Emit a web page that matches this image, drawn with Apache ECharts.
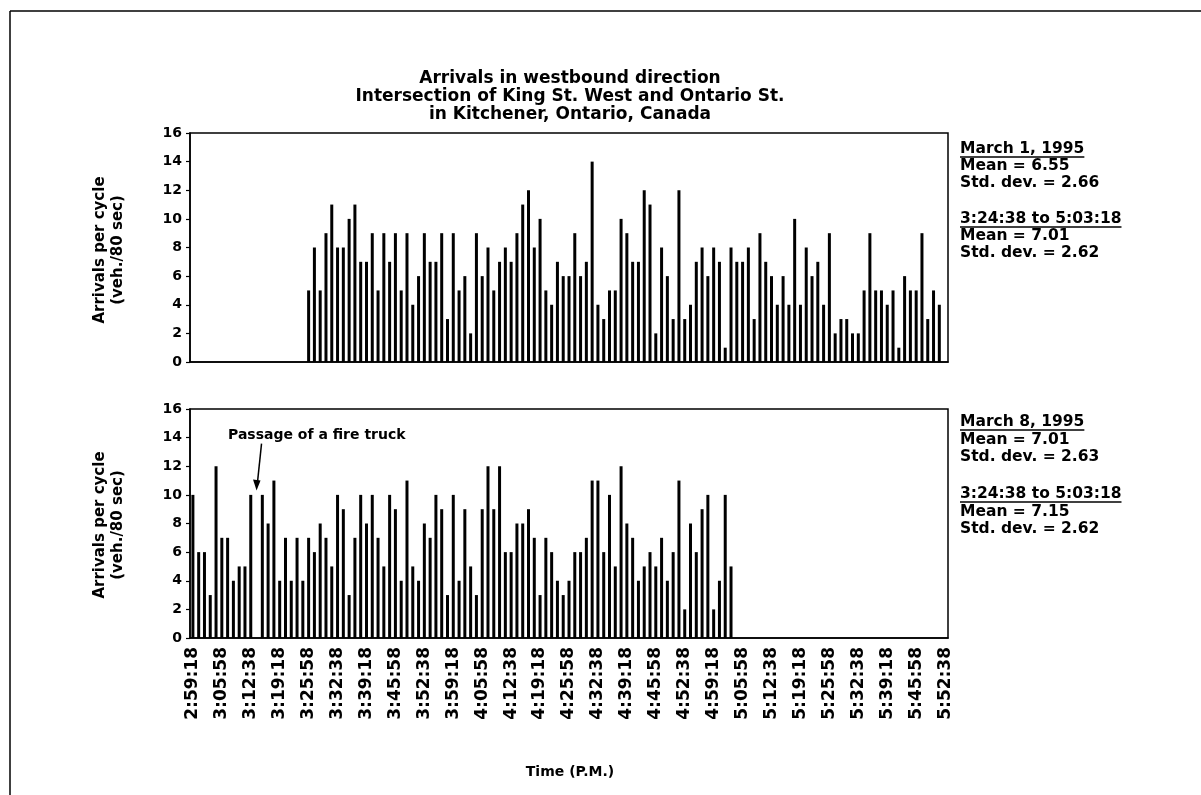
<!DOCTYPE html>
<html>
<head>
<meta charset="utf-8">
<title>Arrivals in westbound direction</title>
<script src="https://cdn.jsdelivr.net/npm/echarts@6.0.0/dist/echarts.min.js"></script>
<style>
  html, body { margin: 0; padding: 0; background: #fff; }
  #chart { width: 1201px; height: 795px; }
</style>
</head>
<body>
<div id="chart"></div>
<script>
// time labels shown under the lower chart (one every 5 cycles)
const tickLabels = [
  '2:59:18', '3:05:58', '3:12:38', '3:19:18', '3:25:58', '3:32:38', '3:39:18',
  '3:45:58', '3:52:38', '3:59:18', '4:05:58', '4:12:38', '4:19:18', '4:25:58',
  '4:32:38', '4:39:18', '4:45:58', '4:52:38', '4:59:18', '5:05:58', '5:12:38',
  '5:19:18', '5:25:58', '5:32:38', '5:39:18', '5:45:58', '5:52:38'
]
const cycleSec = 80
const cycleCount = 131

// March 1, 1995: first counted cycle is at index 20 (3:25:58)
const march1Start = 20
const march1Values = [
  5, 8, 5, 9, 11, 8, 8, 10, 11, 7,
  7, 9, 5, 9, 7, 9, 5, 9, 4, 6,
  9, 7, 7, 9, 3, 9, 5, 6, 2, 9,
  6, 8, 5, 7, 8, 7, 9, 11, 12, 8,
  10, 5, 4, 7, 6, 6, 9, 6, 7, 14,
  4, 3, 5, 5, 10, 9, 7, 7, 12, 11,
  2, 8, 6, 3, 12, 3, 4, 7, 8, 6,
  8, 7, 1, 8, 7, 7, 8, 3, 9, 7,
  6, 4, 6, 4, 10, 4, 8, 6, 7, 4,
  9, 2, 3, 3, 2, 2, 5, 9, 5, 5,
  4, 5, 1, 6, 5, 5, 9, 3, 5, 4
]

// March 8, 1995: starts at 2:59:18
const march8Start = 0
const march8Values = [
  10, 6, 6, 3, 12, 7, 7, 4, 5, 5,
  10, 0, 10, 8, 11, 4, 7, 4, 7, 4,
  7, 6, 8, 7, 5, 10, 9, 3, 7, 10,
  8, 10, 7, 5, 10, 9, 4, 11, 5, 4,
  8, 7, 10, 9, 3, 10, 4, 9, 5, 3,
  9, 12, 9, 12, 6, 6, 8, 8, 9, 7,
  3, 7, 6, 4, 3, 4, 6, 6, 7, 11,
  11, 6, 10, 5, 12, 8, 7, 4, 5, 6,
  5, 7, 4, 6, 11, 2, 8, 6, 9, 10,
  2, 4, 10, 5
]
const fireTruckIndex = 11

const march1Notes = ['March 1, 1995', 'Mean = 6.55', 'Std. dev. = 2.66', '3:24:38 to 5:03:18', 'Mean = 7.01', 'Std. dev. = 2.62']
const march8Notes = ['March 8, 1995', 'Mean = 7.01', 'Std. dev. = 2.63', '3:24:38 to 5:03:18', 'Mean = 7.15', 'Std. dev. = 2.62']

// category list: every 80 s cycle from 2:59:18
const toClock = (sec) => {
  const h = Math.floor(sec / 3600)
  const m = Math.floor((sec % 3600) / 60)
  const s = sec % 60
  return h + ':' + String(m).padStart(2, '0') + ':' + String(s).padStart(2, '0')
}
const startSec = 2 * 3600 + 59 * 60 + 18
const categories = []
for (let i = 0; i < cycleCount; i++) categories.push(toClock(startSec + i * cycleSec))

const pad = (start, values) => {
  const out = new Array(cycleCount).fill(null)
  values.forEach((v, i) => { out[start + i] = v })
  return out
}

const FONT = '"DejaVu Sans", "Liberation Sans", Arial, sans-serif'
const chart = echarts.init(document.getElementById('chart'))

const measure = (text, size) => {
  const ctx = document.createElement('canvas').getContext('2d')
  ctx.font = 'bold ' + size + 'px ' + FONT
  return ctx.measureText(text).width
}

const boldText = (text, x, y, size, align, extra) => Object.assign({
  type: 'text',
  x: x,
  y: y,
  style: {
    text: text,
    fill: '#000',
    fontFamily: FONT,
    fontWeight: 'bold',
    fontSize: size,
    align: align || 'left',
    verticalAlign: 'middle'
  }
}, extra || {})

// right hand notes with underlined headings
const NOTE_SIZE = 15.5
const notesBlock = (notes, ys) => {
  const items = []
  notes.forEach((t, i) => {
    items.push(boldText(t, 960, ys[i], NOTE_SIZE))
    if (i === 0 || i === 3) {
      const w = measure(t, NOTE_SIZE)
      items.push({
        type: 'line',
        shape: { x1: 960, y1: ys[i] + 8, x2: 960 + w, y2: ys[i] + 8 },
        style: { stroke: '#000', lineWidth: 1.5 }
      })
    }
  })
  return items
}

const grids = [
  { left: 190, top: 133, width: 758, height: 229 },
  { left: 190, top: 409, width: 758, height: 229 }
]

const makeXAxis = (gridIndex, showLabels) => ({
  type: 'category',
  gridIndex: gridIndex,
  data: categories,
  boundaryGap: true,
  axisLine: { lineStyle: { color: '#000', width: 1.5 } },
  axisTick: { alignWithLabel: true, interval: 4, length: 4, lineStyle: { color: '#000', width: 1.2 } },
  axisLabel: {
    show: showLabels,
    interval: 4,
    rotate: 90,
    margin: 9,
    color: '#000',
    fontFamily: FONT,
    fontWeight: 'bold',
    fontSize: 17
  },
  splitLine: { show: false }
})

const makeYAxis = (gridIndex) => ({
  type: 'value',
  gridIndex: gridIndex,
  min: 0,
  max: 16,
  interval: 2,
  axisLine: { show: true, lineStyle: { color: '#000', width: 1.5 } },
  axisTick: { show: true, length: 4, lineStyle: { color: '#000', width: 1.2 } },
  axisLabel: { color: '#000', fontFamily: FONT, fontWeight: 'bold', fontSize: 14, margin: 8 },
  splitLine: { show: false }
})

const barSeries = (idx, data) => ({
  type: 'bar',
  xAxisIndex: idx,
  yAxisIndex: idx,
  data: data,
  barWidth: 3,
  itemStyle: { color: '#000' },
  silent: true,
  animation: false
})

chart.setOption({
  animation: false,
  backgroundColor: '#fff',
  grid: grids.map(g => Object.assign({ show: true, borderColor: '#000', borderWidth: 1.5 }, g)),
  xAxis: [makeXAxis(0, false), makeXAxis(1, true)],
  yAxis: [makeYAxis(0), makeYAxis(1)],
  series: [
    barSeries(0, pad(march1Start, march1Values)),
    barSeries(1, pad(march8Start, march8Values))
  ]
})

// annotation arrow for the fire truck, anchored on the axis scale
const tip = chart.convertToPixel({ gridIndex: 1 }, [fireTruckIndex, 10.3])
const tail = [tip[0] + 5, tip[1] - 47]

const graphics = [
  // page frame (top and left edges)
  { type: 'line', shape: { x1: 10, y1: 11, x2: 1201, y2: 11 }, style: { stroke: '#000', lineWidth: 1.5 } },
  { type: 'line', shape: { x1: 10, y1: 11, x2: 10, y2: 795 }, style: { stroke: '#000', lineWidth: 1.5 } },

  boldText('Arrivals in westbound direction', 570, 79, 17, 'center'),
  boldText('Intersection of King St. West and Ontario St.', 570, 97, 17, 'center'),
  boldText('in Kitchener, Ontario, Canada', 570, 115, 17, 'center'),

  boldText('Arrivals per cycle', 100, 250, 15, 'center', { rotation: Math.PI / 2 }),
  boldText('(veh./80 sec)', 118, 250, 15, 'center', { rotation: Math.PI / 2 }),
  boldText('Arrivals per cycle', 100, 525, 15, 'center', { rotation: Math.PI / 2 }),
  boldText('(veh./80 sec)', 118, 525, 15, 'center', { rotation: Math.PI / 2 }),

  boldText('Time (P.M.)', 570, 772, 14, 'center'),

  boldText('Passage of a fire truck', 228, 435, 14),
  { type: 'line', shape: { x1: tail[0], y1: tail[1], x2: tip[0] + 1, y2: tip[1] - 9 }, style: { stroke: '#000', lineWidth: 1.5 } },
  { type: 'polygon', shape: { points: [[tip[0], tip[1]], [tip[0] - 3.5, tip[1] - 11], [tip[0] + 4, tip[1] - 10]] }, style: { fill: '#000' } }
]
  .concat(notesBlock(march1Notes, [149, 166, 183, 219, 236, 253]))
  .concat(notesBlock(march8Notes, [422, 440, 457, 494, 512, 529]))

chart.setOption({ graphic: graphics })
</script>
</body>
</html>
